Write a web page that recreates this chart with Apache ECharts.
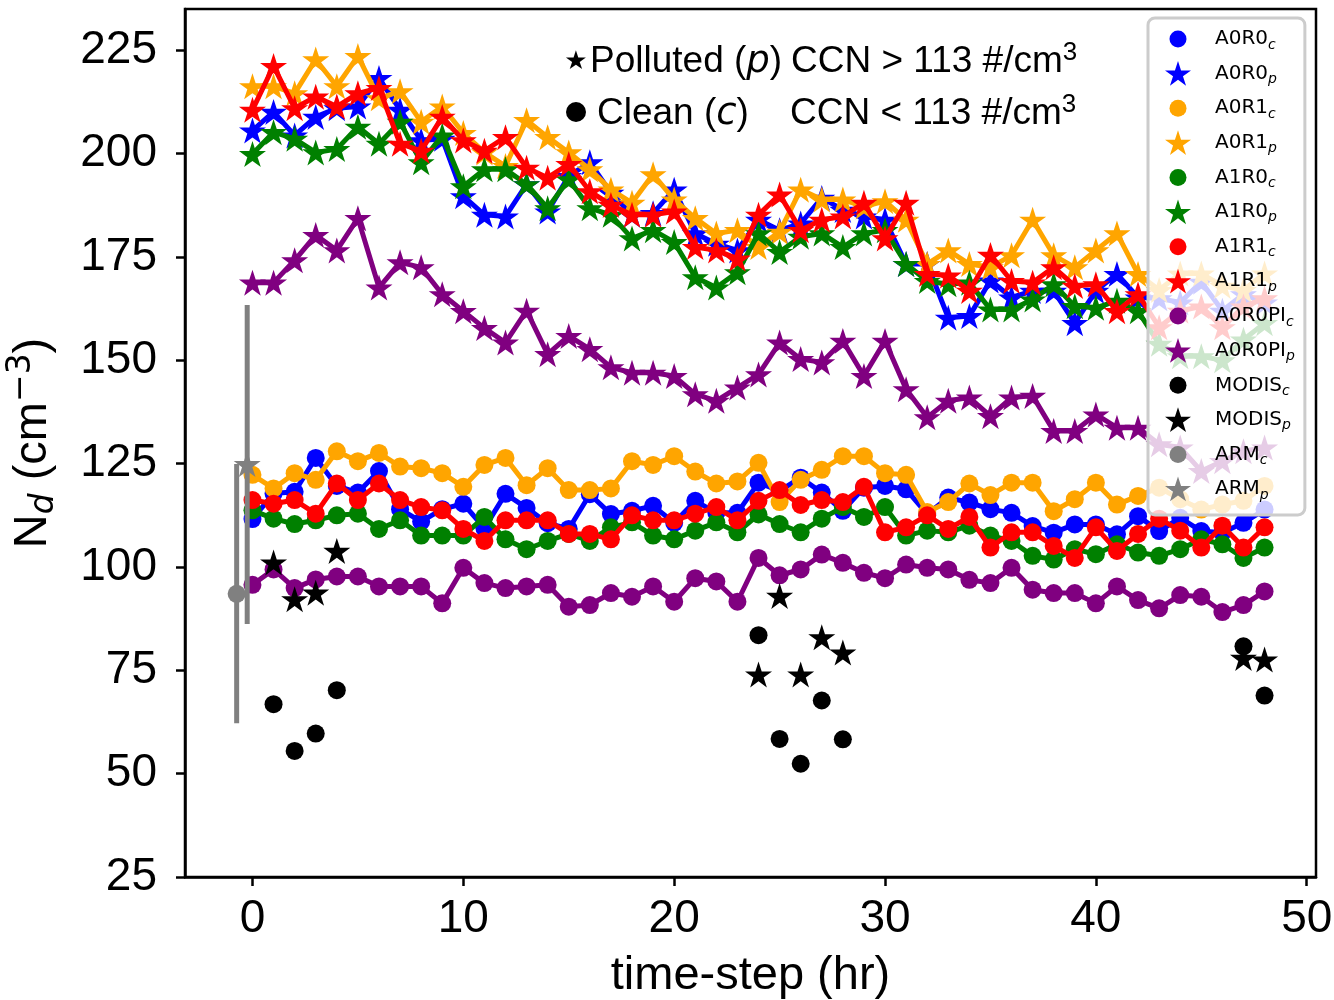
<!DOCTYPE html>
<html><head><meta charset="utf-8">
<script src="https://cdn.jsdelivr.net/npm/echarts@6/dist/echarts.min.js"></script>
<style>html,body{margin:0;padding:0;background:#fff;}#c{width:1334px;height:1000px;}</style>
</head><body><div id="c"></div>
<script>
// ---------- data ----------
const steps = [0,1,2,3,4,5,6,7,8,9,10,11,12,13,14,15,16,17,18,19,20,21,22,23,24,25,26,27,28,29,30,31,32,33,34,35,36,37,38,39,40,41,42,43,44,45,46,47,48];
const A0R0_c = [111.6,117.8,118.2,126.4,119.6,118,123.2,114,111,114,115.3,109.4,117.7,114.3,110.6,109.2,117.6,112.8,113.6,114.8,110.7,116,113.1,113.1,120.4,118.4,121.6,118,113.6,119.2,119.6,118.8,112.8,116.8,115.6,114,113.1,109.9,108.3,110.3,110.3,107.9,112.3,108.7,111.9,108.7,108.3,110.7,113.9];
const A0R0_p = [205.6,210.1,204.4,208.9,211,211.4,218.3,210.6,203.2,203.6,189.7,185.2,184.8,192.6,186,194.6,197.9,190.5,185.2,185.6,191.3,180.7,178.2,176.6,184,181.5,183.1,189.3,186.4,184.8,184,173.3,173.3,160.3,160.7,169.3,165.2,166.8,166.8,159,166.8,170.9,165.2,165,164,169,162,166,164];
const A0R1_c = [122.3,119,122.7,121.1,128,125.6,127.6,124.3,123.9,122.7,119.4,124.7,126.4,119.8,123.9,118.6,118.6,119,125.6,124.7,126.8,123.1,120.2,120.7,125.2,115.7,121.1,123.5,126.8,126.8,122.7,122.3,113.3,115.7,120.2,117.4,120.4,120.4,113.5,116.4,120.4,115.1,117.2,119.2,116.4,113.9,115.1,116,119.6];
const A0R1_p = [216.3,216.3,214.6,222.8,216.3,223.6,213.4,215.1,207.7,211.4,205,200.3,197,208.1,204,200.3,196.2,191.3,188.1,195,188.9,184.4,180.7,181.5,177.4,181.1,191.3,188.9,188.9,187.2,188.5,184,173.3,176.6,173.3,172.5,175.4,184,175.4,172.5,176.6,180.7,170.9,167,171,171,168,167,171];
const A1R0_c = [113.7,111.7,110.4,111.3,112.5,112.9,109.2,111.3,107.6,107.6,107.6,112.1,106.7,104.3,106.3,108,106.3,109.6,110.8,107.6,106.7,108.8,110.8,108.4,112.7,110.4,108.4,111.7,114.5,112.1,114.5,107.6,108.8,108.4,110,107.6,106.3,102.7,101.8,104.3,103.1,105.5,103.5,102.7,104.3,106.7,105.5,102.2,104.7];
const A1R0_p = [199.9,205.2,203.6,200.3,201.1,206.5,202.4,207.7,197.9,204.4,192.1,196.2,196.2,192.6,186.8,193.8,186.8,185.2,179.5,181.5,178.6,170.1,167.6,171.3,180.7,176.2,179.9,180.7,177.4,180.7,181.5,173.3,169.2,168.4,168.8,162.3,162.3,164.7,168.4,163.1,162.7,164.4,161.9,154,151,151,150,155,159];
const A1R1_c = [116.2,115.3,116.2,112.9,120.2,116.2,120.2,116.2,114.5,113.7,109.2,106.3,111.3,111.3,111.3,108,108,106.7,112.5,111.3,111.3,112.9,114.5,111.3,116,118.6,115,116.2,115.7,119.4,108.4,109.6,112.5,109.2,112.1,104.7,108.4,108.4,105.1,102.2,109.6,103.9,108,111.7,108.8,104.7,110,104.7,109.6];
const A1R1_p = [210.6,221.2,211,213.8,211.4,214.6,215.9,202.4,200.7,208.9,203.2,200.7,204,196.6,194.2,197.5,190.9,187.6,185.2,185.2,186,177.4,176.6,174.6,185.2,190.1,181.5,184,184.8,188.1,179.5,188.1,170.9,170.5,166.8,175.5,169.2,168.8,172.5,168,168.4,161.9,166,158,162,163,158,163,165];
const A0R0PI_c = [95.7,99.4,94.9,97,97.7,97.7,95.3,95.3,95.3,91.2,99.8,96.1,94.9,95.3,95.7,90.4,90.8,93.7,92.8,95.3,91.6,97.3,96.5,91.6,102.2,98,99.4,103,101,98.6,97.3,100.6,99.8,99.4,96.9,96.1,99.8,94.5,93.7,93.7,91.2,95.3,92,90,93.2,92.8,89.1,90.8,94.1];
const A0R0PI_p = [168.8,168.8,174.2,180.3,176.6,184.4,167.6,173.7,172.5,166,161.9,157.8,154.3,162,151.5,155.9,152.7,148.3,147,147,146.2,141.8,140.2,143.4,146.6,154.3,150.3,149.5,154.7,146.2,154.7,143,136.2,140.2,141,136.5,141,141.4,132.9,132.9,136.9,133.7,133.7,129.7,128.9,123.2,125.6,128,128.9];
const modisSteps = [1,2,3,4,24,25,26,27,28,47,48];
const MODIS_c = [66.8,55.5,59.7,70.2,83.5,58.4,52.4,67.7,58.3,80.8,68.9];
const MODIS_p = [101.1,92.2,93.8,103.9,74,93,74,83,79.3,78,77.6];
const armSteps = [-0.75, -0.25];          // ARM_c, ARM_p
const ARM_c = [93.5];  const ARM_c_err = [62.2, 124.9];
const ARM_p = [124.9]; const ARM_p_err = [86.2, 163.4];
const xTicks = [0,10,20,30,40,50];
const yTicks = [25,50,75,100,125,150,175,200,225];
const legendNames = ['A0R0_c','A0R0_p','A0R1_c','A0R1_p','A1R0_c','A1R0_p','A1R1_c','A1R1_p','A0R0PI_c','A0R0PI_p','MODIS_c','MODIS_p','ARM_c','ARM_p'];

// ---------- styling ----------
const STAR = 'path://M50,0L61.23,34.55L97.55,34.55L68.17,55.9L79.39,90.45L50,69.1L20.61,90.45L31.83,55.9L2.45,34.55L38.77,34.55Z';
const LEG_CIRCLE = 'path://M0,0M26,26M4.5,13a8.5,8.5 0 1,0 17,0a8.5,8.5 0 1,0 -17,0Z';
const AX = 'Liberation Sans';
const LW = 5;
const CIRC = 18;
const STARSZ = [27, 26];
const zip = (xs, ys) => ys.map((v, i) => [xs[i], v]);

const seriesDefs = [
  ['A0R0_c', A0R0_c, '#0000ff', 'c'], ['A0R0_p', A0R0_p, '#0000ff', 'p'],
  ['A0R1_c', A0R1_c, '#ffa500', 'c'], ['A0R1_p', A0R1_p, '#ffa500', 'p'],
  ['A1R0_c', A1R0_c, '#008000', 'c'], ['A1R0_p', A1R0_p, '#008000', 'p'],
  ['A1R1_c', A1R1_c, '#ff0000', 'c'], ['A1R1_p', A1R1_p, '#ff0000', 'p'],
  ['A0R0PI_c', A0R0PI_c, '#800080', 'c'], ['A0R0PI_p', A0R0PI_p, '#800080', 'p']
];
const series = [];
seriesDefs.forEach((d, i) => {
  series.push({
    name: d[0], type: 'line', z: 2 + i, data: zip(steps, d[1]),
    symbol: d[3] === 'p' ? STAR : 'circle',
    symbolSize: d[3] === 'p' ? STARSZ : CIRC,
    showSymbol: true, showAllSymbol: true,
    lineStyle: { color: d[2], width: LW, opacity: 1 },
    itemStyle: { color: d[2], borderWidth: 0, opacity: 1 },
    emphasis: { disabled: true }, silent: true, animation: false
  });
});
series.push({ name: 'MODIS_c', type: 'scatter', z: 13, data: zip(modisSteps, MODIS_c), symbol: 'circle', symbolSize: CIRC, itemStyle: { color: '#000000', opacity: 1 }, emphasis: { disabled: true }, silent: true });
series.push({ name: 'MODIS_p', type: 'scatter', z: 14, data: zip(modisSteps, MODIS_p), symbol: STAR, symbolSize: STARSZ, itemStyle: { color: '#000000', opacity: 1 }, emphasis: { disabled: true }, silent: true });
series.push({ name: 'ARM_c_err', type: 'line', z: 15, data: [[armSteps[0], ARM_c_err[0]], [armSteps[0], ARM_c_err[1]]], showSymbol: false, lineStyle: { color: '#808080', width: LW }, silent: true });
series.push({ name: 'ARM_c', type: 'scatter', z: 16, data: [[armSteps[0], ARM_c[0]]], symbol: 'circle', symbolSize: CIRC, itemStyle: { color: '#808080', opacity: 1 }, emphasis: { disabled: true }, silent: true });
series.push({ name: 'ARM_p_err', type: 'line', z: 17, data: [[armSteps[1], ARM_p_err[0]], [armSteps[1], ARM_p_err[1]]], showSymbol: false, lineStyle: { color: '#808080', width: LW }, silent: true });
series.push({ name: 'ARM_p', type: 'scatter', z: 18, data: [[armSteps[1], ARM_p[0]]], symbol: STAR, symbolSize: STARSZ, itemStyle: { color: '#808080', opacity: 1 }, emphasis: { disabled: true }, silent: true });

const chart = echarts.init(document.getElementById('c'), null, { renderer: 'canvas' });
chart.setOption({
  animation: false,
  backgroundColor: '#fff',
  grid: { left: 185, right: 18, top: 9, bottom: 123, containLabel: false, outerBoundsMode: 'none', show: true, borderColor: '#000', borderWidth: 2.5, backgroundColor: 'transparent' },
  xAxis: {
    type: 'value', min: -3.2, max: 50.44,
    splitLine: { show: false },
    axisLine: { onZero: false, lineStyle: { color: '#000', width: 2.5 } },
    axisTick: { show: true, inside: false, length: 9, lineStyle: { color: '#000', width: 2.5 }, customValues: xTicks },
    axisLabel: { customValues: xTicks, color: '#000', fontSize: 46, fontFamily: AX, margin: 19 },
    name: 'time-step (hr)', nameLocation: 'middle', nameGap: 76,
    nameTextStyle: { color: '#000', fontSize: 47, fontFamily: AX }
  },
  yAxis: {
    type: 'value', min: 25, max: 235,
    splitLine: { show: false },
    axisLine: { onZero: false, lineStyle: { color: '#000', width: 2.5 } },
    axisTick: { show: true, inside: false, length: 9, lineStyle: { color: '#000', width: 2.5 }, customValues: yTicks },
    axisLabel: { customValues: yTicks, color: '#000', fontSize: 46, fontFamily: AX, margin: 28 },
    name: '{n|N}{d|d}{n| (cm}{e|−3}{n|)}', nameLocation: 'middle', nameGap: 124, nameRotate: 90,
    nameTextStyle: {
      color: '#000', fontSize: 47, fontFamily: AX,
      rich: {
        n: { fontSize: 47, fontFamily: AX, color: '#000', lineHeight: 56 },
        d: { fontSize: 33, fontFamily: 'DejaVu Sans', fontStyle: 'italic', color: '#000', lineHeight: 26, verticalAlign: 'bottom' },
        e: { fontSize: 33, fontFamily: 'DejaVu Sans', color: '#000', lineHeight: 30, verticalAlign: 'top' }
      }
    }
  },
  legend: {
    orient: 'vertical', left: 1148, top: 18, z: 60,
    itemWidth: 26, itemHeight: 26, itemGap: 8.95,
    padding: [8, 10, 13, 17],
    backgroundColor: 'rgba(255,255,255,0.8)', borderColor: '#cccccc', borderWidth: 3, borderRadius: 7,
    selectedMode: false,
    data: legendNames.map(n => ({ name: n, icon: n.endsWith('_p') ? STAR : LEG_CIRCLE })),
    formatter: n => { const k = n.lastIndexOf('_'); return '{b|' + n.slice(0, k) + '}{s|' + n.slice(k + 1) + '}'; },
    textStyle: {
      rich: {
        b: { fontSize: 20, fontFamily: 'DejaVu Sans', color: '#000', lineHeight: 26, padding: [0, 0, 0, 19] },
        s: { fontSize: 14, fontFamily: 'DejaVu Sans', fontStyle: 'italic', color: '#000', lineHeight: 13, verticalAlign: 'bottom' }
      }
    }
  },
  graphic: [
    { type: 'text', z: 70, x: 576, y: 62, style: { text: '★', fontSize: 26, fontFamily: 'DejaVu Sans', fill: '#000', align: 'center', verticalAlign: 'middle' } },
    { type: 'circle', z: 70, shape: { cx: 576, cy: 112, r: 10 }, style: { fill: '#000' } },
    { type: 'text', z: 70, x: 590, y: 62, style: {
      text: '{a|Polluted (}{i|p}{a|)}', verticalAlign: 'middle',
      rich: { a: { fontSize: 37, fontFamily: AX, fill: '#000' }, i: { fontSize: 37, fontFamily: 'DejaVu Sans', fontStyle: 'italic', fill: '#000' } } } },
    { type: 'text', z: 70, x: 791, y: 62, style: {
      text: '{a|CCN > 113 #/cm}{s|3}', verticalAlign: 'middle',
      rich: { a: { fontSize: 37, fontFamily: AX, fill: '#000', lineHeight: 44 }, s: { fontSize: 26, fontFamily: AX, fill: '#000', lineHeight: 26, verticalAlign: 'top' } } } },
    { type: 'text', z: 70, x: 597, y: 114, style: {
      text: '{a|Clean (}{i|c}{a|)}', verticalAlign: 'middle',
      rich: { a: { fontSize: 37, fontFamily: AX, fill: '#000' }, i: { fontSize: 37, fontFamily: 'DejaVu Sans', fontStyle: 'italic', fill: '#000' } } } },
    { type: 'text', z: 70, x: 790, y: 114, style: {
      text: '{a|CCN < 113 #/cm}{s|3}', verticalAlign: 'middle',
      rich: { a: { fontSize: 37, fontFamily: AX, fill: '#000', lineHeight: 44 }, s: { fontSize: 26, fontFamily: AX, fill: '#000', lineHeight: 26, verticalAlign: 'top' } } } }
  ],
  series: series
});
</script>
</body></html>
